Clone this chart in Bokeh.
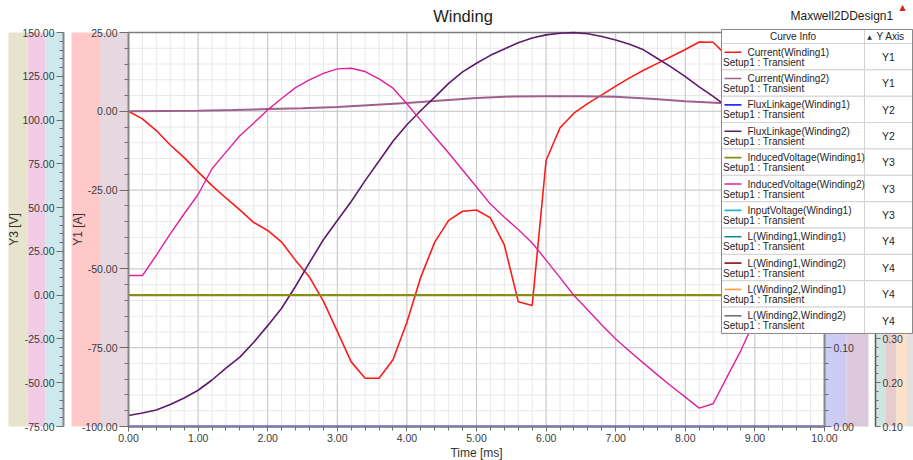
from bokeh.plotting import figure
from bokeh.models import (Range1d, LinearAxis, FixedTicker, PrintfTickFormatter,
                          BoxAnnotation, Label, AllLabels)
from bokeh.embed import file_html
from bokeh.resources import INLINE

FONT = "Liberation Sans"

# ---------------- data (time in ms) ----------------
time_current1 = [0.0, 0.2, 0.4, 0.6, 0.8, 1.0, 1.2, 1.4, 1.6, 1.8, 2.0, 2.2, 2.4, 2.6,
                 2.8, 3.0, 3.2, 3.4, 3.6, 3.8, 4.0, 4.2, 4.4, 4.6, 4.8, 5.0, 5.2, 5.4,
                 5.6, 5.8, 6.0, 6.2, 6.4, 6.6, 6.8, 7.0, 7.2, 7.4, 7.6, 7.8, 8.0, 8.2,
                 8.4, 8.6, 8.8, 9.0, 9.2, 9.4, 9.6, 9.8, 10.0]
current1 = [0.0, -2.4, -6.1, -10.7, -14.7, -19.2, -23.6, -27.5, -31.3, -35.3, -37.8,
            -41.5, -47.3, -52.6, -60.2, -69.8, -79.5, -84.7, -84.7, -78.8, -66.9,
            -52.6, -41.5, -34.6, -31.7, -31.3, -33.8, -42.4, -60.4, -61.6, -15.6,
            -5.2, -0.6, 2.5, 5.2, 8.0, 10.6, 13.0, 15.2, 17.4, 19.6, 22.0, 21.9,
            17.5, 13.5, 10.0, 7.5, 5.5, 4.0, 2.5, 1.5]

time_current2 = [0.0, 0.5, 1.0, 1.5, 2.0, 2.5, 3.0, 3.5, 4.0, 4.5, 5.0, 5.5, 6.0,
                 6.5, 7.0, 7.5, 8.0, 8.5, 9.0, 9.5, 10.0]
current2 = [0.0, 0.1, 0.2, 0.4, 0.7, 1.0, 1.4, 2.0, 2.6, 3.4, 4.2, 4.7, 4.8, 4.8,
            4.6, 4.0, 3.2, 2.6, 2.0, 1.2, 0.5]

time_flux1 = [0.0, 2.0, 4.0, 6.0, 8.0, 10.0]
flux1 = [0.0, 0.0, 0.0, 0.0, 0.0, 0.0]

time_flux2 = [0.0, 0.2, 0.4, 0.6, 0.8, 1.0, 1.2, 1.4, 1.6, 1.8, 2.0, 2.2, 2.4, 2.6,
              2.8, 3.0, 3.2, 3.4, 3.6, 3.8, 4.0, 4.2, 4.4, 4.6, 4.8, 5.0, 5.2, 5.4,
              5.6, 5.8, 6.0, 6.2, 6.4, 6.6, 6.8, 7.0, 7.2, 7.4, 7.6, 7.8, 8.0, 8.2,
              8.4, 8.6, 8.8, 9.0, 9.2, 9.4, 9.6, 9.8, 10.0]
flux2 = [0.0140, 0.0171, 0.0210, 0.0279, 0.0362, 0.0460, 0.0590, 0.0740, 0.0880,
         0.1070, 0.1280, 0.1500, 0.1780, 0.2080, 0.2370, 0.2614, 0.2855, 0.3120,
         0.3370, 0.3620, 0.3830, 0.4010, 0.4180, 0.4355, 0.4500, 0.4610, 0.4710,
         0.4790, 0.4870, 0.4930, 0.4970, 0.4990, 0.4998, 0.4984, 0.4950, 0.4905,
         0.4850, 0.4780, 0.4670, 0.4560, 0.4440, 0.4310, 0.4190, 0.4060, 0.3920,
         0.3770, 0.3610, 0.3440, 0.3270, 0.3090, 0.2910]

time_induced1 = [0.0, 2.0, 4.0, 6.0, 8.0, 10.0]
induced1 = [0.0, 0.0, 0.0, 0.0, 0.0, 0.0]

time_induced2 = [0.0, 0.2, 0.4, 0.6, 0.8, 1.0, 1.2, 1.4, 1.6, 1.8, 2.0, 2.2, 2.4,
                 2.6, 2.8, 3.0, 3.2, 3.4, 3.6, 3.8, 4.0, 4.2, 4.4, 4.6, 4.8, 5.0,
                 5.2, 5.4, 5.6, 5.8, 6.0, 6.2, 6.4, 6.6, 6.8, 7.0, 7.2, 7.4, 7.6,
                 7.8, 8.0, 8.2, 8.4, 8.6, 8.8, 9.0, 9.2, 9.4, 9.6, 9.8, 10.0]
induced2 = [11.2, 11.2, 22.8, 35.0, 46.5, 57.5, 72.2, 81.7, 91.0, 98.3, 105.8, 112.3,
            118.5, 123.0, 126.7, 129.2, 129.6, 127.7, 123.5, 118.2, 109.3, 99.8, 90.5,
            81.2, 71.5, 61.8, 52.0, 44.5, 37.5, 29.8, 20.0, 10.0, -0.2, -8.5, -17.0,
            -25.0, -32.0, -38.8, -45.5, -52.0, -58.2, -64.5, -62.0, -46.7, -31.5,
            -14.0, 4.0, 20.0, 34.0, 46.0, 56.0]

legend_names = ["Current(Winding1)", "Current(Winding2)", "FluxLinkage(Winding1)",
                "FluxLinkage(Winding2)", "InducedVoltage(Winding1)",
                "InducedVoltage(Winding2)", "InputVoltage(Winding1)",
                "L(Winding1,Winding1)", "L(Winding1,Winding2)", "L(Winding2,Winding1)",
                "L(Winding2,Winding2)"]
legend_axes = ["Y1", "Y1", "Y2", "Y2", "Y3", "Y3", "Y3", "Y4", "Y4", "Y4", "Y4"]
legend_colors = ["#ff1a1a", "#a0608c", "#2b2bff", "#5e1a6c", "#8c8c14", "#e0209c",
                 "#22b4cc", "#0a8c8c", "#8c0a14", "#ff9a3c", "#707070"]
solution_name = "Setup1 : Transient"

x_ticks = [0, 1, 2, 3, 4, 5, 6, 7, 8, 9, 10]
y1_ticks = [-100, -75, -50, -25, 0, 25]
y2_ticks = [0.0, 0.1, 0.2, 0.3, 0.4, 0.5]
y3_ticks = [-75, -50, -25, 0, 25, 50, 75, 100, 125, 150]
y4_ticks = [0.1, 0.2, 0.3, 0.4, 0.5, 0.6, 0.7, 0.8, 0.9, 1.0]

X_RANGE = (0, 10)
Y1_RANGE = (-100, 25)
Y2_RANGE = (0.0, 0.5)
Y3_RANGE = (-75, 150)
Y4_RANGE = (0.1, 1.0)

# ---------------- canvas geometry (pixels) ----------------
W, H = 913, 460
FL, FR, FT, FB = 128, 824, 32, 426        # edges of the data area


def dx(px):
    return X_RANGE[0] + (px - FL) * (X_RANGE[1] - X_RANGE[0]) / (FR - FL)


def y_at(py, lo, hi):
    return hi - (py - FT) * (hi - lo) / (FB - FT)


def dy(py):
    return y_at(py, *Y1_RANGE)


def steps(lo, hi, step):
    n = int(round((hi - lo) / step))
    return [round(lo + i * step, 4) for i in range(n + 1)]


def full_range(rng):
    # range spanning the whole canvas so the axis strips and the table fit inside
    return Range1d(y_at(H, *rng), y_at(0, *rng))


p = figure(width=W, height=H, x_range=Range1d(dx(0), dx(W)), y_range=full_range(Y1_RANGE),
           output_backend="svg", toolbar_location=None, min_border=0,
           background_fill_color="white", border_fill_color="white",
           outline_line_color=None)
p.extra_y_ranges = {"y2": full_range(Y2_RANGE), "y3": full_range(Y3_RANGE),
                    "y4": full_range(Y4_RANGE)}
p.xgrid.visible = False
p.ygrid.visible = False


def style_axis(ax, ticks, minor, bounds, loc, tick_out, minor_out, standoff, line_w=2):
    ax.ticker = FixedTicker(ticks=ticks, minor_ticks=minor)
    ax.formatter = PrintfTickFormatter(format="%.2f")
    ax.major_label_policy = AllLabels()
    ax.bounds = bounds
    ax.fixed_location = loc
    ax.major_tick_out = tick_out
    ax.major_tick_in = 0
    ax.minor_tick_out = minor_out
    ax.minor_tick_in = 0
    ax.major_label_standoff = standoff
    ax.major_label_text_font = FONT
    ax.major_label_text_font_size = "10.5px"
    ax.major_label_text_color = "#3a3a3a"
    ax.axis_line_color = "#858585"
    ax.axis_line_width = line_w
    ax.major_tick_line_color = "#6e6e6e"
    ax.minor_tick_line_color = "#6e6e6e"
    ax.axis_label_text_font = FONT
    ax.axis_label_text_font_size = "12px"
    ax.axis_label_text_font_style = "normal"
    ax.axis_label_text_color = "#333333"


# coloured strips behind each axis, one per curve assigned to it
strip_left = [8, 27, 45, 71, 99.5, FR, 846, 875, 885.5, 896, 906.5]
strip_right = [27, 45, 63, 99.5, FL, 846, 868, 885.5, 896, 906.5, W]
strip_colors = ["#e6e4cc", "#f2cbe5", "#cee9ee",            # Y3
                "#ffc9c9", "#e7d8e0",                        # Y1
                "#cbcbf3", "#dcc9dd",                        # Y2
                "#cde6e1", "#e8cbcd", "#fde2c9", "#e1e1e1"]  # Y4
p.quad(left=[dx(v) for v in strip_left], right=[dx(v) for v in strip_right],
       top=dy(FT), bottom=dy(FB), fill_color=strip_colors, line_color=None)

# grid of the data area
x_minor = steps(0, 10, 0.2)
y_minor = steps(-100, 25, 5)
p.segment(x0=x_minor, x1=x_minor, y0=Y1_RANGE[0], y1=Y1_RANGE[1], line_color="#e8e8e8")
p.segment(x0=X_RANGE[0], x1=X_RANGE[1], y0=y_minor, y1=y_minor, line_color="#e8e8e8")
p.segment(x0=x_ticks, x1=x_ticks, y0=Y1_RANGE[0], y1=Y1_RANGE[1], line_color="#c9c9c9")
p.segment(x0=X_RANGE[0], x1=X_RANGE[1], y0=y1_ticks, y1=y1_ticks, line_color="#c9c9c9")
p.segment(x0=X_RANGE[0], x1=X_RANGE[1], y0=Y1_RANGE[1], y1=Y1_RANGE[1],
          line_color="#7c7c7c", line_width=1.5)

# x axis
xa = p.xaxis[0]
style_axis(xa, x_ticks, x_minor, X_RANGE, Y1_RANGE[0], 5, 4, 2)
xa.axis_label = "Time [ms]"
xa.axis_label_standoff = 1

# Y1 (current) axis at the left edge of the data area
y1a = p.yaxis[0]
style_axis(y1a, y1_ticks, y_minor, Y1_RANGE, X_RANGE[0], 9, 4, 2)
y1a.axis_label = "Y1 [A]"
y1a.axis_label_standoff = -6

# Y3 (voltage) axis further out
y3a = LinearAxis(y_range_name="y3")
style_axis(y3a, y3_ticks, steps(-75, 150, 5), Y3_RANGE, dx(63), 7, 4, 2)
y3a.axis_label = "Y3 [V]"
y3a.axis_label_standoff = -2
p.add_layout(y3a, "left")

# Y2 (flux linkage) and Y4 (inductance) axes on the right
y2a = LinearAxis(y_range_name="y2")
style_axis(y2a, y2_ticks, steps(0, 0.5, 0.02), Y2_RANGE, X_RANGE[1], 7, 4, 2)
p.add_layout(y2a, "right")
y4a = LinearAxis(y_range_name="y4")
style_axis(y4a, y4_ticks, steps(0.1, 1.0, 0.02), Y4_RANGE, dx(875), 5, 3, 2, line_w=1.5)
y4a.axis_line_color = "#5a5a5a"
p.add_layout(y4a, "right")

# curves
p.line(time_current1, current1, color=legend_colors[0], line_width=1.6)
p.line(time_current2, current2, color=legend_colors[1], line_width=2.0)
p.line(time_flux1, flux1, y_range_name="y2", color=legend_colors[2], line_width=1.8)
p.line(time_flux2, flux2, y_range_name="y2", color=legend_colors[3], line_width=1.6)
p.line(time_induced1, induced1, y_range_name="y3", color=legend_colors[4], line_width=2.4)
p.line(time_induced2, induced2, y_range_name="y3", color=legend_colors[5], line_width=1.4)

# titles
p.add_layout(Label(x=dx(462.5), y=dy(15), text="Winding", text_align="center",
                   text_baseline="middle", text_font=FONT, text_font_size="16.5px",
                   text_color="#1e1e1e"))
p.add_layout(Label(x=dx(790), y=dy(15), text="Maxwell2DDesign1", text_align="left",
                   text_baseline="middle", text_font=FONT, text_font_size="12px",
                   text_color="#1e1e1e"))
p.add_layout(Label(x=dx(902), y=dy(7), text="\u25b2", text_align="center",
                   text_baseline="middle", text_font="DejaVu Sans", text_font_size="8px",
                   text_color="#d42020"))

# curve info table
LEG_L, LEG_M, LEG_R = 721, 864, 912
LEG_T, HEAD_B = 29, 43
ROW_H = 26.36
n_rows = len(legend_names)
LEG_B = HEAD_B + ROW_H * n_rows


def cell(l, r, t, b, fill="white", line="#d2d2d2", alpha=1.0):
    p.add_layout(BoxAnnotation(left=dx(l), right=dx(r), top=dy(t), bottom=dy(b),
                               fill_color=fill, fill_alpha=alpha, line_color=line,
                               line_width=1, line_alpha=1))


cell(LEG_L, LEG_R, LEG_T, LEG_B, line=None)
cell(LEG_L, LEG_M, LEG_T, HEAD_B)
cell(LEG_M, LEG_R, LEG_T, HEAD_B)
for i in range(n_rows):
    top = HEAD_B + ROW_H * i
    cell(LEG_L, LEG_M, top, top + ROW_H)
    cell(LEG_M, LEG_R, top, top + ROW_H)
cell(LEG_L, LEG_R, LEG_T, LEG_B, fill=None, line="#8a8a8a", alpha=0)


def text(px, py, s, align="left", size="10px"):
    p.add_layout(Label(x=dx(px), y=dy(py), text=s, text_align=align,
                       text_baseline="middle", text_font=FONT, text_font_size=size,
                       text_color="#1e1e1e"))


text((LEG_L + LEG_M) / 2, 36, "Curve Info", align="center")
p.add_layout(Label(x=dx(869), y=dy(36), text="\u25b2", text_align="center",
                   text_baseline="middle", text_font="DejaVu Sans", text_font_size="6px",
                   text_color="#333333"))
text(876, 36, "Y Axis")

for i, (name, axis_name, color) in enumerate(zip(legend_names, legend_axes, legend_colors)):
    top = HEAD_B + ROW_H * i
    ly = top + 8.7
    p.add_layout(BoxAnnotation(left=dx(724), right=dx(741), top=dy(ly - 0.8),
                               bottom=dy(ly + 0.8), fill_color=color, fill_alpha=1,
                               line_color=None))
    text(747, ly, name)
    text(722.5, top + 18.7, solution_name)
    text(888, top + 13.4, axis_name, align="center", size="10.5px")

open("out.html", "w").write(file_html(p, INLINE))
